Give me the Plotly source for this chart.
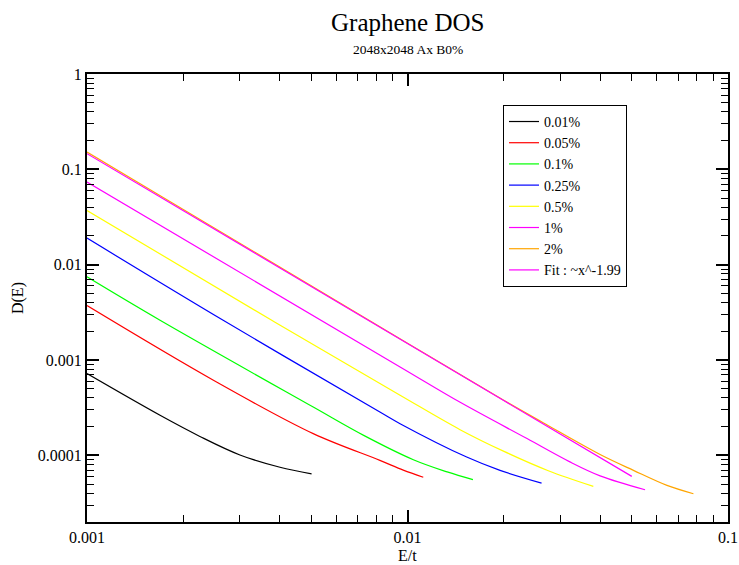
import plotly.graph_objects as go

# ---- data (E/t, D(E)) ----
x_001 = [0.001, 0.00169, 0.00225, 0.0030, 0.0040, 0.00502]
y_001 = [7.2e-4, 2.63e-4, 1.58e-4, 1.01e-4, 7.5e-5, 6.4e-5]

x_005 = [0.001, 0.00248, 0.00508, 0.0082, 0.0097, 0.0112]
y_005 = [3.72e-3, 6.13e-4, 1.69e-4, 8.87e-5, 7.0e-5, 5.9e-5]

x_01 = [0.001, 0.00169, 0.00508, 0.0073, 0.01043, 0.0133, 0.016]
y_01 = [7.45e-3, 2.61e-3, 3.21e-4, 1.62e-4, 9.0e-5, 6.7e-5, 5.56e-5]

x_025 = [0.001, 0.00266, 0.0082, 0.00948, 0.0153, 0.01944, 0.0262]
y_025 = [1.9e-2, 2.61e-3, 2.85e-4, 2.15e-4, 9.6e-5, 6.96e-5, 5.12e-5]

x_05 = [0.001, 0.00377, 0.00948, 0.01459, 0.020, 0.0275, 0.038]
y_05 = [3.7e-2, 2.61e-3, 4.27e-4, 1.86e-4, 1.1e-4, 6.9e-5, 4.73e-5]

x_1 = [0.001, 0.00948, 0.0146, 0.0236, 0.032, 0.0399, 0.0551]
y_1 = [7.35e-2, 8.46e-4, 3.6e-4, 1.5e-4, 8.6e-5, 6.1e-5, 4.36e-5]

x_2 = [0.001, 0.01, 0.0199, 0.0265, 0.0399, 0.0507, 0.0645, 0.078]
y_2 = [1.52e-1, 1.5e-3, 3.8e-4, 2.2e-4, 1.02e-4, 6.96e-5, 4.84e-5, 3.96e-5]

x_fit = [0.001, 0.0199, 0.0501]
y_fit = [1.46e-1, 3.78e-4, 6.02e-5]

series = [
    ("0.01%", x_001, y_001, "#000000"),
    ("0.05%", x_005, y_005, "#ff0000"),
    ("0.1%", x_01, y_01, "#00ff00"),
    ("0.25%", x_025, y_025, "#0000ff"),
    ("0.5%", x_05, y_05, "#ffff00"),
    ("1%", x_1, y_1, "#ff00ff"),
    ("2%", x_2, y_2, "#ffa500"),
    ("Fit : ~x^-1.99", x_fit, y_fit, "#ff00ff"),
]

x_ticks = [0.001, 0.01, 0.1]
x_ticklabels = ["0.001", "0.01", "0.1"]
y_ticks = [1, 0.1, 0.01, 0.001, 0.0001]
y_ticklabels = ["1", "0.1", "0.01", "0.001", "0.0001"]

FONT = "Liberation Serif, Times New Roman, serif"

fig = go.Figure()
for name, xs, ys, col in series:
    fig.add_trace(go.Scatter(x=xs, y=ys, mode="lines", name=name,
                             line=dict(color=col, width=1.2, shape="spline",
                                       smoothing=1.0)))

# invisible trace so the mirrored (top/right) tick axes are drawn
fig.add_trace(go.Scatter(x=[None], y=[None], xaxis="x2", yaxis="y2",
                         showlegend=False, hoverinfo="skip"))

x_minor = [m * 10 ** e for e in (-3, -2) for m in range(2, 10)]
y_minor = [m * 10 ** e for e in (-5, -4, -3, -2, -1) for m in range(2, 10)]

tick_common = dict(
    showgrid=False, zeroline=False, automargin=False,
    ticks="inside", ticklen=12, tickwidth=1.5, tickcolor="black",
    tickfont=dict(family=FONT, size=16, color="black"),
)
xminor = dict(tickvals=x_minor, ticks="inside", ticklen=7, tickwidth=1.2,
              tickcolor="black", showgrid=False)
yminor = dict(tickvals=y_minor, ticks="inside", ticklen=7, tickwidth=1.2,
              tickcolor="black", showgrid=False)

fig.update_layout(
    xaxis=dict(type="log", range=[-3, -1], tickvals=x_ticks,
               ticktext=x_ticklabels, minor=xminor, showline=True,
               linecolor="black", linewidth=2, mirror=True, **tick_common),
    yaxis=dict(type="log", range=[-4.699, 0], tickvals=y_ticks,
               ticktext=y_ticklabels, minor=yminor, showline=True,
               linecolor="black", linewidth=2, mirror=True, **tick_common),
    xaxis2=dict(type="log", range=[-3, -1], tickvals=x_ticks,
                overlaying="x", side="top", anchor="y", showticklabels=False,
                minor=xminor, showline=False, **tick_common),
    yaxis2=dict(type="log", range=[-4.699, 0], tickvals=y_ticks,
                overlaying="y", side="right", anchor="x", showticklabels=False,
                minor=yminor, showline=False, **tick_common),
)

fig.update_layout(
    width=739, height=565,
    margin=dict(l=87, r=11, t=74, b=43),
    paper_bgcolor="white", plot_bgcolor="white",
    font=dict(family=FONT, color="black"),
    showlegend=True,
    legend=dict(x=0.649, y=0.931, xanchor="left", yanchor="top",
                bordercolor="black", borderwidth=1, bgcolor="white",
                font=dict(family=FONT, size=14, color="black"),
                tracegroupgap=0),
    annotations=[
        dict(text="Graphene DOS", xref="paper", yref="paper", x=0.5, y=1.116,
             xanchor="center", yanchor="middle", showarrow=False,
             font=dict(family=FONT, size=25, color="black")),
        dict(text="2048x2048 Ax B0%", xref="paper", yref="paper", x=0.5,
             y=1.055, xanchor="center", yanchor="middle", showarrow=False,
             font=dict(family=FONT, size=13.5, color="black")),
        dict(text="E/t", xref="paper", yref="paper", x=0.5, y=-0.074,
             xanchor="center", yanchor="middle", showarrow=False,
             font=dict(family=FONT, size=16, color="black")),
        dict(text="D(E)", xref="paper", yref="paper", x=-0.1076, y=0.5,
             xanchor="center", yanchor="middle", showarrow=False,
             textangle=-90, font=dict(family=FONT, size=16, color="black")),
    ],
)

fig.write_html("out.html")
